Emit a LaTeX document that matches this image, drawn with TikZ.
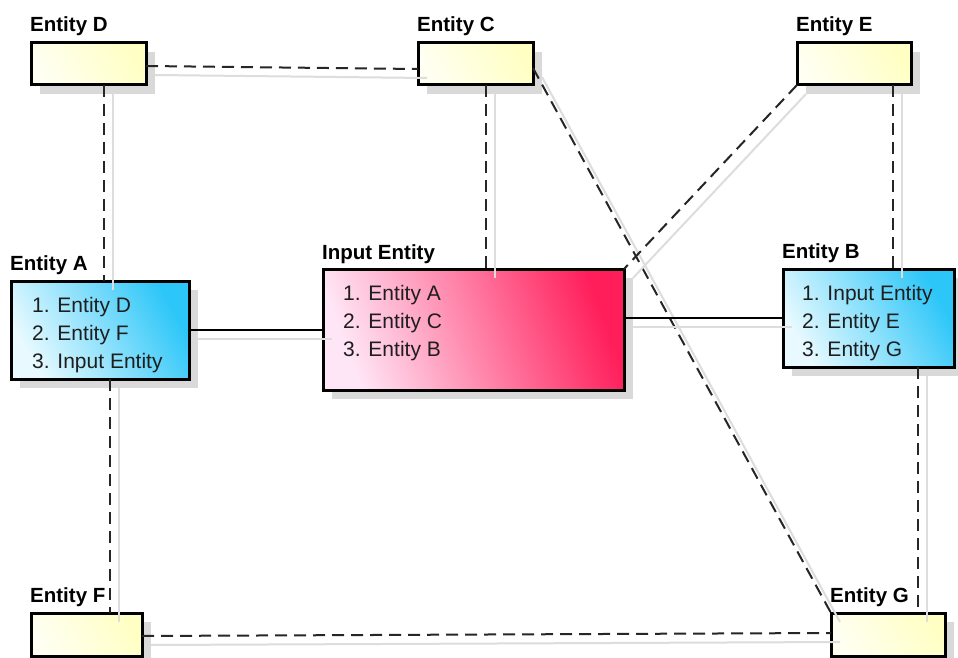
\documentclass[tikz,border=0pt]{standalone}
\usepackage{fontspec}
\setmainfont{Liberation Sans}
\usetikzlibrary{shadows}
\definecolor{yel1}{HTML}{FFFFF2}
\definecolor{yel2}{HTML}{FFFFC4}
\definecolor{blue1}{HTML}{E8FAFF}
\definecolor{blue2}{HTML}{2CC6F8}
\definecolor{pink1}{HTML}{FFE6F6}
\definecolor{pink2}{HTML}{FF1E5A}
\definecolor{boxshadow}{HTML}{D9D9D9}
\definecolor{lineshadow}{HTML}{DDDDDD}
\definecolor{listtext}{HTML}{1E1E1E}
\newcommand\linkpair[3]{\draw[shline] #2 -- #3; \draw[#1] #2 -- #3;}
\begin{document}
\begin{tikzpicture}[x=1pt,y=-1pt,
  box/.style={draw=black, line width=3pt, rectangle, inner sep=0pt, outer sep=0pt,
    general shadow={fill=boxshadow, shadow xshift=9pt, shadow yshift=-9pt}},
  ybox/.style={box, left color=yel1, right color=yel2, shading angle=120},
  bbox/.style={box, left color=blue1, right color=blue2, shading angle=120},
  pbox/.style={box, left color=pink1, right color=pink2, shading angle=110},
  lab/.style={anchor=base west, inner sep=0pt, font=\bfseries\fontsize{20.5}{24}\selectfont},
  list/.style={anchor=base west, inner sep=0pt, align=left, text=listtext, font=\fontsize{21}{28}\selectfont},
  dline/.style={draw=black!85, line width=2pt, dash pattern=on 12pt off 7pt},
  sline/.style={draw=black, line width=1.5pt},
  shline/.style={draw=lineshadow, line width=2pt, transform canvas={xshift=9pt,yshift=-9pt}}
]
\useasboundingbox (0,0) rectangle (958,658);
\fill[white] (0,0) rectangle (958,658);

% boxes
\node[ybox, minimum width=115pt, minimum height=42pt] (D) at (88.5,64) {};
\node[ybox, minimum width=115pt, minimum height=42pt] (C) at (475.5,64) {};
\node[ybox, minimum width=114pt, minimum height=42pt] (E) at (854,64) {};
\node[bbox, minimum width=178pt, minimum height=98pt] (A) at (100,330) {};
\node[pbox, minimum width=301pt, minimum height=121pt] (In) at (473.5,329.5) {};
\node[bbox, minimum width=171pt, minimum height=98pt] (B) at (868.5,318) {};
\node[ybox, minimum width=111pt, minimum height=43pt] (F) at (86.5,634.5) {};
\node[ybox, minimum width=114pt, minimum height=43pt] (G) at (888,634.5) {};

% connectors
\linkpair{dline}{([yshift=-2pt]D.east)}{([yshift=-5pt]C.west)}
\linkpair{dline}{([xshift=15.5pt]D.south)}{([xshift=4pt]A.north)}
\linkpair{dline}{([xshift=10.5pt]C.south)}{([xshift=12.5pt]In.north)}
\linkpair{dline}{([yshift=-4pt]C.east)}{(G.north west)}
\linkpair{dline}{(E.south west)}{(In.north east)}
\linkpair{dline}{([xshift=39pt]E.south)}{([xshift=24.5pt]B.north)}
\linkpair{dline}{([xshift=10pt]A.south)}{([xshift=23.5pt]F.north)}
\linkpair{dline}{([xshift=49.5pt]B.south)}{([xshift=30pt]G.north)}
\linkpair{dline}{([yshift=-1.5pt]F.east)}{([yshift=1.5pt]G.west)}
\linkpair{sline}{(A.east)}{(A.east -| In.west)}
\linkpair{sline}{(In.east |- B.west)}{(B.west)}

% titles
\node[lab] (tD) at ([xshift=-1pt,yshift=11pt]D.north west) {Entity D};
\node[lab] (tC) at ([xshift=-1pt,yshift=11pt]C.north west) {Entity C};
\node[lab] (tE) at ([xshift=-1pt,yshift=11pt]E.north west) {Entity E};
\node[lab] (tA) at ([xshift=-1pt,yshift=11pt]A.north west) {Entity A};
\node[lab] (tIn) at ([xshift=-1pt,yshift=10pt]In.north west) {Input Entity};
\node[lab] (tB) at ([xshift=-1pt,yshift=11pt]B.north west) {Entity B};
\node[lab] (tF) at ([xshift=-1pt,yshift=11pt]F.north west) {Entity F};
\node[lab] (tG) at ([xshift=-1pt,yshift=11pt]G.north west) {Entity G};

% lists (anchor base = baseline of last line)
\node[list] (lA) at ([xshift=21pt,yshift=-87pt]A.north west) {1. Entity D\\2. Entity F\\3. Input Entity};
\node[list] (lIn) at ([xshift=20pt,yshift=-87pt]In.north west) {1. Entity A\\2. Entity C\\3. Entity B};
\node[list] (lB) at ([xshift=19pt,yshift=-87pt]B.north west) {1. Input Entity\\2. Entity E\\3. Entity G};
\end{tikzpicture}
\end{document}
